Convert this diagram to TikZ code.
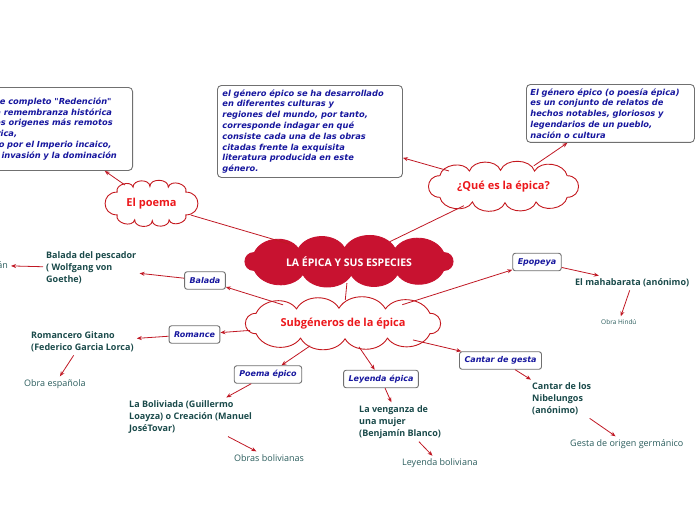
\documentclass[tikz,border=0pt]{standalone}
\usepackage{fontspec}
\setmainfont{Open Sans}
\newfontfamily\boxfont{DejaVu Sans}
\usetikzlibrary{shapes.geometric,arrows.meta,calc}
\definecolor{linered}{RGB}{192,24,36}
\definecolor{mainred}{RGB}{200,18,48}
\definecolor{cloudred}{RGB}{196,24,30}
\definecolor{titlered}{RGB}{236,24,28}
\definecolor{boxblue}{RGB}{22,22,158}
\definecolor{boxgray}{RGB}{112,112,112}
\definecolor{workgreen}{RGB}{26,74,74}
\definecolor{origingreen}{RGB}{42,92,92}
% cloud outline round a centre: half width, half height, style
\newcommand{\cloudat}[4]{%
  \draw[#4] ($#1+(0.86*#2,-0.6*#3)$)
    to[endpuff] ($#1+(0.86*#2,0.6*#3)$)
    to[puff] ($#1+(0.44*#2,0.86*#3)$)
    to[puff] ($#1+(0.02*#2,0.9*#3)$)
    to[puff] ($#1+(-0.42*#2,0.86*#3)$)
    to[puff] ($#1+(-0.86*#2,0.6*#3)$)
    to[endpuff] ($#1+(-0.86*#2,-0.6*#3)$)
    to[puff] ($#1+(-0.46*#2,-0.86*#3)$)
    to[puff] ($#1+(-0.04*#2,-0.9*#3)$)
    to[puff] ($#1+(0.42*#2,-0.86*#3)$)
    to[puff] ($#1+(0.86*#2,-0.6*#3)$) -- cycle;}
\begin{document}
\begin{tikzpicture}[x=1pt, y=-1pt,
    puff/.style={bend left=60},
    endpuff/.style={bend left=90, looseness=1.8},
    cloudnode/.style={ellipse, inner sep=0pt, align=center, font=\bfseries\fontsize{11}{13}\selectfont},
    mainline/.style={fill=mainred, draw=mainred, line width=0.9pt},
    subline/.style={fill=white, draw=cloudred, line width=0.9pt},
    notebox/.style={rectangle, rounded corners=4pt, draw=boxgray, line width=0.9pt, fill=white, align=left, inner xsep=5pt, inner ysep=4pt, text=boxblue, font=\boxfont\bfseries\itshape\fontsize{8.3}{10.8}\selectfont},
    label/.style={rectangle, rounded corners=2.5pt, draw=boxgray, line width=0.9pt, fill=white, inner xsep=5pt, inner ysep=0pt, minimum height=17.5pt, text=boxblue, font=\boxfont\bfseries\itshape\fontsize{8}{10}\selectfont},
    work/.style={align=left, inner sep=3pt, text=workgreen, font=\bfseries\fontsize{9}{12}\selectfont},
    origin/.style={inner sep=3pt, text=origingreen, font=\fontsize{9}{11}\selectfont},
    arrow/.style={-{Stealth[length=5pt, width=4pt]}, linered, line width=0.8pt},
    link/.style={linered, line width=0.8pt}
]
\useasboundingbox (0,0) rectangle (696,520);
\clip (0,0) rectangle (696,520);

% Centre
\cloudat{(349,261.5)}{110}{15}{mainline}
\node[cloudnode, text=white, font=\bfseries\fontsize{10.5}{12}\selectfont, minimum width=200pt, minimum height=43pt] (main) at (349,261.5) {LA ÉPICA Y SUS ESPECIES};
\cloudat{(343,323.5)}{101}{17}{subline}
\node[cloudnode, text=titlered, minimum width=194pt, minimum height=47pt] (sub) at (343,323.5) {Subgéneros de la épica};
\cloudat{(151.5,203.5)}{40}{19}{subline, puff/.style={bend left=90, looseness=1.2}}
\node[cloudnode, text=titlered, minimum width=91pt, minimum height=45pt] (poema) at (151.5,203.5) {El poema};
\cloudat{(503.5,186.5)}{74}{18}{subline, puff/.style={bend left=70}}
\node[cloudnode, text=titlered, minimum width=149pt, minimum height=45pt] (que) at (503.5,186.5) {¿Qué es la épica?};
\draw[link] (main) -- (poema);
\draw[link] (main) -- (que);
\draw[link] (main) -- (sub);

% Definitions
\node[notebox, anchor=north east, text width=166pt, minimum height=83pt] (redencion) at (133,87) {Se define completo "Redención"\\Y es una remembranza histórica\\desde los origenes más remotos\\de América,\\cruzando por el Imperio incaico,\\hasta la invasión y la dominación};
\node[notebox, anchor=north west, text width=175pt] (cultura) at (217,85) {el género épico se ha desarrollado\\en diferentes culturas y\\regiones del mundo, por tanto,\\corresponde indagar en qué\\consiste cada una de las obras\\citadas frente la exquisita\\literatura producida en este\\género.};
\node[notebox, anchor=north west, text width=160pt, inner xsep=4pt] (genero) at (526,84) {El género épico (o poesía épica)\\es un conjunto de relatos de\\hechos notables, gloriosos y\\legendarios de un pueblo,\\nación o cultura};
\draw[arrow] (poema) -- (redencion);
\draw[arrow] (que) -- (cultura);
\draw[arrow] (que) -- (genero);

% Subgenres
\node[label] (balada) at (205,280.5) {Balada};
\node[label] (romance) at (194.5,334.5) {Romance};
\node[label] (poemaepico) at (268,374.5) {Poema épico};
\node[label] (leyenda) at (381,379) {Leyenda épica};
\node[label] (cantar) at (500.5,360.5) {Cantar de gesta};
\node[label] (epopeya) at (537,262) {Epopeya};
\draw[arrow] (sub) -- (balada);
\draw[arrow] (sub) -- (romance);
\draw[arrow] (sub) -- (poemaepico);
\draw[arrow] (sub) -- (leyenda);
\draw[arrow] (sub) -- (cantar);
\draw[arrow] (sub) -- (epopeya);

% Works and origins
\node[work, anchor=west] (pescador) at (43,268) {Balada del pescador\\( Wolfgang von\\Goethe)};
\node[origin, anchor=east] (aleman) at (11,265) {Poema alemán};
\node[work, anchor=west] (romancero) at (28,342) {Romancero Gitano\\(Federico Garcia Lorca)};
\node[origin, anchor=west] (espanola) at (21,384) {Obra española};
\node[work, anchor=west] (boliviada) at (126,417) {La Boliviada (Guillermo\\Loayza) o Creación (Manuel\\JoséTovar)};
\node[origin, anchor=west] (obras) at (231,458) {Obras bolivianas};
\node[work, anchor=west] (venganza) at (356,422) {La venganza de\\una mujer\\(Benjamín Blanco)};
\node[origin, anchor=west] (leyendabol) at (399,463.5) {Leyenda boliviana};
\node[work, anchor=west] (nibelungos) at (529,399) {Cantar de los\\Nibelungos\\(anónimo)};
\node[origin, anchor=west] (gesta) at (567,444) {Gesta de origen germánico};
\node[work, anchor=west] (mahabarata) at (572,283) {El mahabarata (anónimo)};
\node[origin, anchor=west, font=\fontsize{6.5}{8}\selectfont] (hindu) at (598,322) {Obra Hindú};
\draw[arrow] (balada) -- (pescador);
\draw[arrow] (pescador) -- (aleman);
\draw[arrow] (romance) -- (romancero);
\draw[arrow] (romancero) -- (espanola);
\draw[arrow] (poemaepico) -- (boliviada);
\draw[arrow] (boliviada) -- (obras);
\draw[arrow] (leyenda) -- (venganza);
\draw[arrow] (venganza) -- (leyendabol);
\draw[arrow] (cantar) -- (nibelungos);
\draw[arrow] (nibelungos) -- (gesta);
\draw[arrow] (epopeya) -- (mahabarata);
\draw[arrow] (mahabarata) -- (hindu);

\end{tikzpicture}
\end{document}
